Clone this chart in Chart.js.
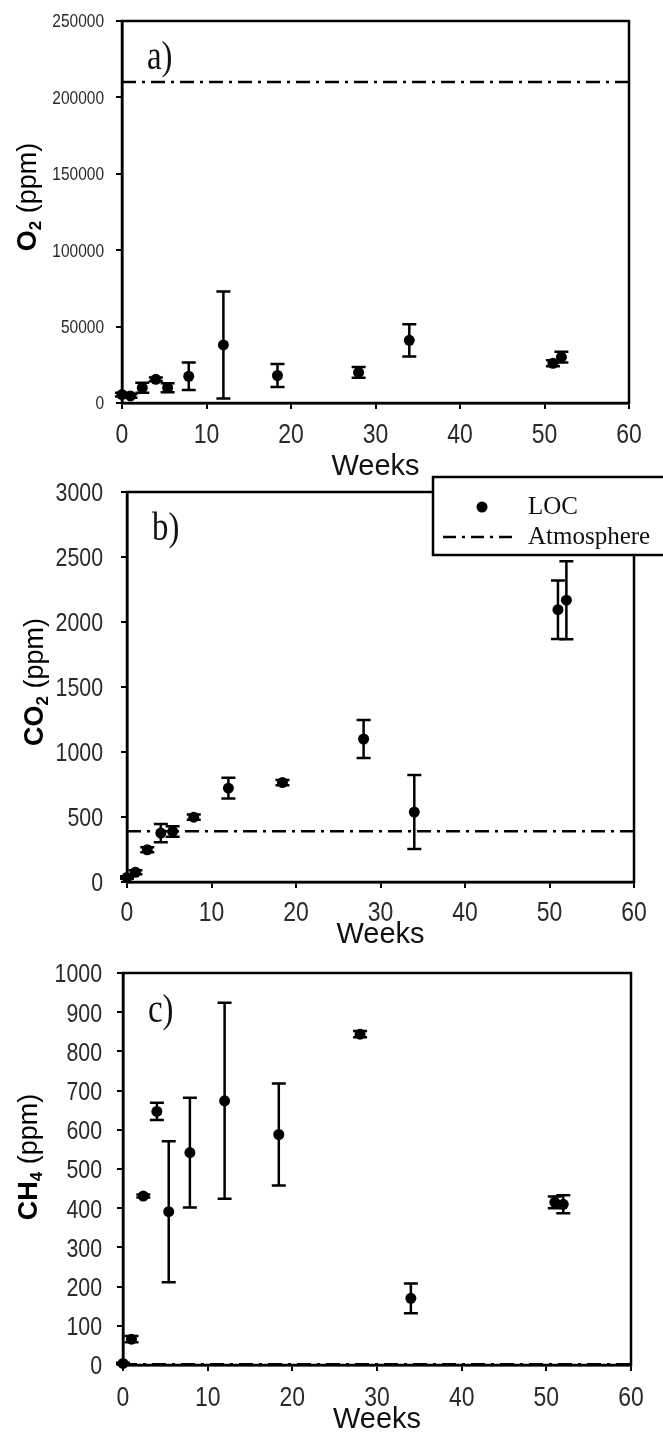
<!DOCTYPE html>
<html lang="en">
<head>
<meta charset="UTF-8">
<title>LOC soil gas</title>
<script src="https://cdn.jsdelivr.net/npm/chart.js"></script>
<style>
  body { margin: 0; background: #fff; }
  #wrap { position: relative; width: 663px; height: 1434px; overflow: hidden; background: #fff; }
  canvas { position: absolute; left: 0; }
  #o2 { top: 0; }
  #co2 { top: 470px; }
  #ch4 { top: 950px; }
</style>
</head>
<body>
<div id="wrap">
  <canvas id="o2" width="663" height="490"></canvas>
  <canvas id="co2" width="663" height="484"></canvas>
  <canvas id="ch4" width="663" height="484"></canvas>
</div>
<script>
// sampling times (weeks)
const weeks = [0, 1, 2.4, 4, 5.4, 7.9, 12, 18.4, 28, 34, 51, 52];

// O2 (ppm), mean and +/- error
const o2Mean = [5500, 4600, 10000, 15500, 10000, 17500, 38000, 18000, 20000, 41000, 26000, 30000];
const o2Err  = [1200, 1200, 3300, 1200, 3000, 9000, 35000, 7500, 3500, 10500, 2000, 3500];

// CO2 (ppm)
const co2Mean = [35, 75, 248, 376, 389, 499, 722, 765, 1100, 538, 2095, 2168];
const co2Err  = [10, 15, 20, 70, 40, 20, 80, 20, 147, 285, 225, 300];

// CH4 (ppm)
const ch4Mean = [4, 66, 431, 647, 391, 542, 674, 588, 844, 170, 415, 410];
const ch4Err  = [2, 8, 4, 22, 180, 140, 250, 130, 8, 38, 15, 23];

// atmospheric reference levels (ppm)
const atmO2 = 210000;
const atmCO2 = 390;
const atmCH4 = 1.8;

const xMax = 60, xStep = 10;

const DASH = [14, 6, 3, 6];
const sans = "'Liberation Sans', Arial, sans-serif";
const serif = "'Liberation Serif', 'Times New Roman', serif";

// narrow text: regular sans squeezed sideways, like Arial Narrow
function narrowText(ctx, txt, x, y, size, sx, align) {
  ctx.save();
  ctx.translate(x, y);
  ctx.scale(sx, 1);
  ctx.font = size + 'px ' + sans;
  ctx.textAlign = align;
  ctx.textBaseline = 'alphabetic';
  ctx.fillText(txt, 0, size * 0.358);
  ctx.restore();
}

function drawYTitle(ctx, cx, cy, main, sub) {
  ctx.save();
  ctx.translate(cx, cy);
  ctx.rotate(-Math.PI / 2);
  ctx.fillStyle = '#000';
  ctx.textBaseline = 'middle';
  const bold = 'bold 27px ' + sans, small = 'bold 17px ' + sans, reg = '27px ' + sans;
  ctx.font = bold; const w1 = ctx.measureText(main).width;
  ctx.font = small; const w2 = ctx.measureText(sub).width;
  ctx.font = reg; const w3 = ctx.measureText(' (ppm)').width;
  let x = -(w1 + w2 + w3) / 2;
  ctx.font = bold; ctx.fillText(main, x, 0); x += w1;
  ctx.font = small; ctx.fillText(sub, x, 7); x += w2;
  ctx.font = reg; ctx.fillText(' (ppm)', x, 0);
  ctx.restore();
}

function makePanel(id, mean, err, atm, yMax, yStep, area, canvasH, spec) {
  const errorBars = {
    id: 'errorBars',
    afterDatasetsDraw(chart) {
      const { ctx, scales: { x, y } } = chart;
      ctx.save();
      ctx.strokeStyle = '#000';
      ctx.lineWidth = 2.5;
      weeks.forEach((w, i) => {
        const px = x.getPixelForValue(w);
        const top = y.getPixelForValue(mean[i] + err[i]);
        const bot = y.getPixelForValue(Math.max(0, mean[i] - err[i]));
        ctx.beginPath();
        ctx.moveTo(px, top); ctx.lineTo(px, bot);
        ctx.moveTo(px - 7, top); ctx.lineTo(px + 7, top);
        ctx.moveTo(px - 7, bot); ctx.lineTo(px + 7, bot);
        ctx.stroke();
      });
      ctx.restore();
    }
  };

  const decor = {
    id: 'decor',
    afterDraw(chart) {
      const { ctx, chartArea: a, scales: { x, y } } = chart;
      ctx.save();
      ctx.strokeStyle = '#000';
      ctx.lineWidth = 2.5;
      ctx.strokeRect(a.left, a.top, a.right - a.left, a.bottom - a.top);

      // tick labels
      ctx.fillStyle = '#2a2a2a';
      x.ticks.forEach(t => {
        narrowText(ctx, String(t.value), x.getPixelForValue(t.value), a.bottom + spec.xLabOff, 28, 0.82, 'center');
      });
      y.ticks.forEach(t => {
        narrowText(ctx, String(t.value), spec.yLabRight, y.getPixelForValue(t.value), spec.yTick, spec.ySx, 'right');
      });

      // y title
      drawYTitle(ctx, spec.yTitleX, spec.yTitleY, spec.yMain, spec.ySub);

      // x title
      ctx.fillStyle = '#111';
      ctx.font = '29px ' + sans;
      ctx.textAlign = 'center';
      ctx.textBaseline = 'middle';
      ctx.fillText('Weeks', (a.left + a.right) / 2, spec.weeksY);

      // panel letter
      ctx.save();
      ctx.translate(a.left + 25, spec.labelY);
      ctx.scale(0.82, 1);
      ctx.font = '40px ' + serif;
      ctx.textAlign = 'left';
      ctx.fillStyle = '#111';
      ctx.fillText(spec.label, 0, 0);
      ctx.restore();

      if (spec.legend) {
        const L = spec.legend;
        ctx.fillStyle = '#fff';
        ctx.fillRect(L.x, L.y, L.w, L.h);
        ctx.strokeRect(L.x, L.y, L.w, L.h);
        ctx.fillStyle = '#000';
        ctx.beginPath();
        ctx.arc(L.x + 49, L.y + 30, 5.5, 0, Math.PI * 2);
        ctx.fill();
        ctx.setLineDash([13, 6, 3, 6]);
        ctx.lineWidth = 2.5;
        ctx.beginPath();
        ctx.moveTo(L.x + 10, L.y + 60); ctx.lineTo(L.x + 85, L.y + 60);
        ctx.stroke();
        ctx.setLineDash([]);
        ctx.font = '25px ' + serif;
        ctx.textAlign = 'left';
        ctx.textBaseline = 'middle';
        ctx.fillStyle = '#111';
        ctx.fillText('LOC', L.x + 95, L.y + 30);
        ctx.fillText('Atmosphere', L.x + 95, L.y + 60);
      }
      ctx.restore();
    }
  };

  const hidden = 'rgba(0,0,0,0)';

  return new Chart(document.getElementById(id), {
    type: 'scatter',
    data: {
      datasets: [{
        label: 'LOC',
        data: weeks.map((w, i) => ({ x: w, y: mean[i] })),
        pointRadius: 5.5,
        pointHoverRadius: 5.5,
        backgroundColor: '#000',
        borderColor: '#000',
        borderWidth: 0,
        clip: false
      }, {
        type: 'line',
        label: 'Atmosphere',
        data: [{ x: 0, y: atm }, { x: xMax, y: atm }],
        borderColor: '#000',
        borderWidth: 2.5,
        borderDash: DASH,
        pointRadius: 0,
        fill: false
      }]
    },
    options: {
      responsive: false,
      animation: false,
      events: [],
      layout: { padding: { left: 0, right: 663 - area.right, top: area.top, bottom: 0 } },
      plugins: { legend: { display: false }, tooltip: { enabled: false } },
      scales: {
        x: {
          type: 'linear',
          min: 0, max: xMax,
          afterFit(s) { s.height = canvasH - area.bottom; },
          ticks: { stepSize: xStep, color: hidden, font: { size: 12 } },
          grid: { drawOnChartArea: false, tickLength: 6, color: '#000', lineWidth: 2 },
          border: { color: '#000', width: 2.5 }
        },
        y: {
          type: 'linear',
          min: 0, max: yMax,
          afterFit(s) { s.width = area.left; },
          ticks: { stepSize: yStep, color: hidden, font: { size: 12 } },
          grid: { drawOnChartArea: false, tickLength: 6, color: '#000', lineWidth: 2 },
          border: { color: '#000', width: 2.5 }
        }
      }
    },
    plugins: [errorBars, decor]
  });
}

makePanel('o2', o2Mean, o2Err, atmO2, 250000, 50000,
  { left: 122, right: 629, top: 21, bottom: 403 }, 490,
  { yMain: 'O', ySub: '2', yTitleX: 29, yTitleY: 197, weeksY: 467, label: 'a)', labelY: 58,
    xLabOff: 30, yLabRight: 104, yTick: 18, ySx: 0.86 });

makePanel('co2', co2Mean, co2Err, atmCO2, 3000, 500,
  { left: 127, right: 634, top: 22, bottom: 412 }, 484,
  { yMain: 'CO', ySub: '2', yTitleX: 36, yTitleY: 212, weeksY: 465, label: 'b)', labelY: 59,
    xLabOff: 29, yLabRight: 103, yTick: 26, ySx: 0.82,
    legend: { x: 433, y: 7, w: 250, h: 78 } });

makePanel('ch4', ch4Mean, ch4Err, atmCH4, 1000, 100,
  { left: 123, right: 631, top: 23, bottom: 415 }, 484,
  { yMain: 'CH', ySub: '4', yTitleX: 30, yTitleY: 207, weeksY: 470, label: 'c)', labelY: 61,
    xLabOff: 31, yLabRight: 102, yTick: 26, ySx: 0.82 });
</script>
</body>
</html>
